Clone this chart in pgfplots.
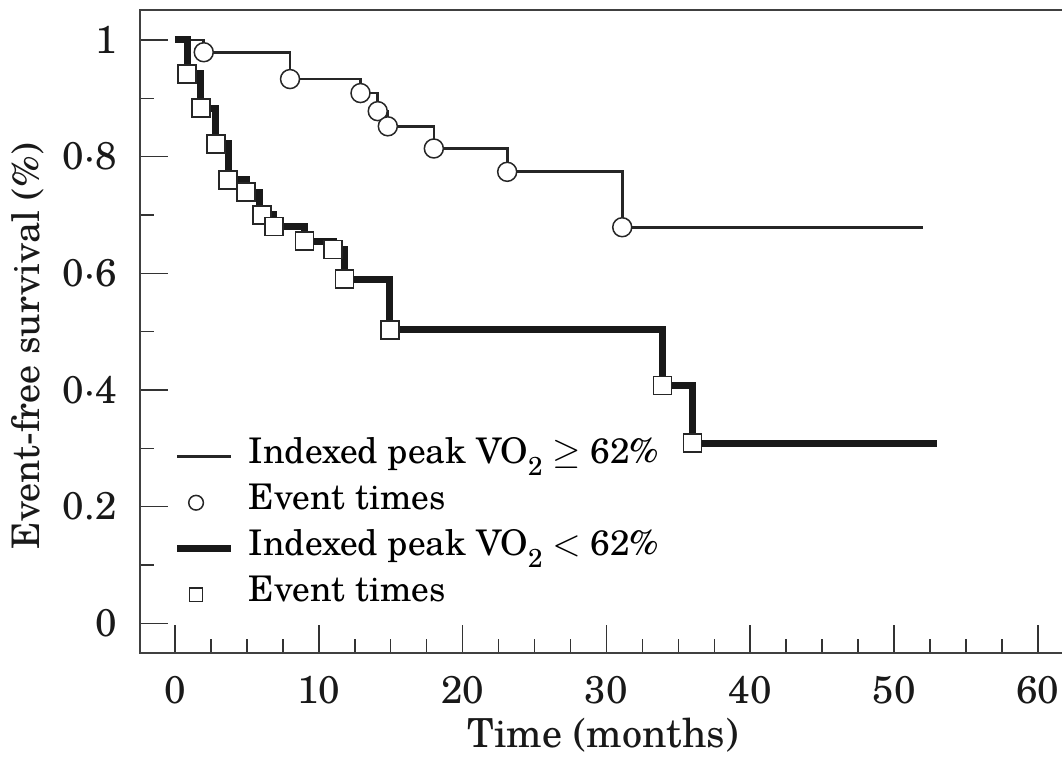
\documentclass[border=0pt]{standalone}
\usepackage{fontspec}
\setmainfont{TeX Gyre Schola}
\usepackage{pgfplots}
\pgfplotsset{compat=1.18}
\newcommand{\subtwo}{\raisebox{-3.6pt}{\fontsize{7.8}{9}\selectfont 2}}
\pgfplotsset{
  lineleg/.style={legend image code/.code={\draw[##1] (0pt,0pt) -- (16.2pt,0pt);}},
  markleg/.style={legend image code/.code={\draw[##1] plot coordinates {(5.7pt,0pt)};}},
}

\pgfplotstableread{
t s
0 1
2 0.979
8 0.933
12.9 0.909
14.1 0.878
14.8 0.852
18 0.814
23.1 0.774
31.1 0.679
52 0.679
}\highline

\pgfplotstableread{
t s
2 0.979
8 0.933
12.9 0.909
14.1 0.878
14.8 0.852
18 0.814
23.1 0.774
31.1 0.679
}\highevents

\pgfplotstableread{
t s
0 1
0.85 0.942
1.8 0.883
2.85 0.822
3.7 0.760
4.95 0.739
5.9 0.700
6.85 0.680
9.0 0.655
11.0 0.641
11.8 0.590
14.95 0.503
33.9 0.408
36.0 0.309
53 0.309
}\lowline

\pgfplotstableread{
t s
0.85 0.942
1.8 0.883
2.85 0.822
3.7 0.760
4.95 0.739
6.05 0.700
6.9 0.680
9.0 0.655
11.0 0.641
11.8 0.590
14.95 0.503
33.9 0.408
36.0 0.309
}\lowevents

\begin{document}
\begin{tikzpicture}
\path[use as bounding box] (-42pt,-32.1pt) rectangle (276.6pt,195.9pt);
\begin{axis}[
  scale only axis, width=277.8pt, height=192.9pt,
  xmin=-2.434, xmax=61.96, ymin=-0.0509, ymax=1.0514,
  axis line style={black!75, line width=0.6pt},
  xtick={0,10,20,30,40,50,60}, xticklabels={0,10,20,30,40,50,60},
  minor x tick num=3,
  ytick={0,0.2,0.4,0.6,0.8,1}, yticklabels={0,0.2,0·4,0·6,0·8,1},
  minor y tick num=1,
  xtick pos=bottom, ytick pos=left, tick align=inside,
  major tick length=8.4pt, minor tick length=4.2pt,
  every tick/.style={black!80, line width=0.45pt},
  tick label style={font=\fontsize{11.6}{14}\selectfont, black!90},
  xticklabel style={yshift=-3.3pt},
  yticklabel style={xshift=-3.5pt},
  xlabel style={font=\fontsize{12}{14}\selectfont, black!90},
  ylabel style={font=\fontsize{11.4}{14}\selectfont, black!90},
  xlabel={Time (months)}, ylabel={Event-free survival (\%)},
  xlabel style={at={(axis description cs:0.5,-0.128)}, anchor=center},
  ylabel style={at={(axis description cs:-0.121,0.477)}, anchor=center},
  legend cell align=left,
  legend style={draw=none, fill=none, at={(axis cs:-0.1,0.325)}, anchor=north west,
    inner sep=0pt, outer sep=0pt, row sep=0pt, column sep=4.3pt,
    font=\fontsize{10.6}{13}\selectfont,
    nodes={text height=9pt, text depth=4.8pt, inner sep=0pt}},
]
\addlegendimage{black!85, line width=0.8pt, lineleg}
\addlegendentry{Indexed peak VO\subtwo\ $\geq$ 62\%}
\addlegendimage{only marks, mark=*, mark size=2.2pt, mark options={fill=white, draw=black!85, line width=0.45pt}, markleg}
\addlegendentry{Event times}
\addlegendimage{black!90, line width=2.1pt, lineleg}
\addlegendentry{Indexed peak VO\subtwo\ $<$ 62\%}
\addlegendimage{only marks, mark=square*, mark size=2.0pt, mark options={fill=white, draw=black!85, line width=0.45pt}, markleg}
\addlegendentry{Event times}

\addplot[const plot, black!85, line width=0.8pt, forget plot] table {\highline};
\addplot[const plot, black!90, line width=2.1pt, forget plot] table {\lowline};
\addplot[only marks, mark=*, mark size=2.85pt, mark options={fill=white, draw=black!85, line width=0.45pt}, forget plot] table {\highevents};
\addplot[only marks, mark=square*, mark size=2.7pt, mark options={fill=white, draw=black!85, line width=0.45pt}, forget plot] table {\lowevents};
\end{axis}
\end{tikzpicture}
\end{document}
